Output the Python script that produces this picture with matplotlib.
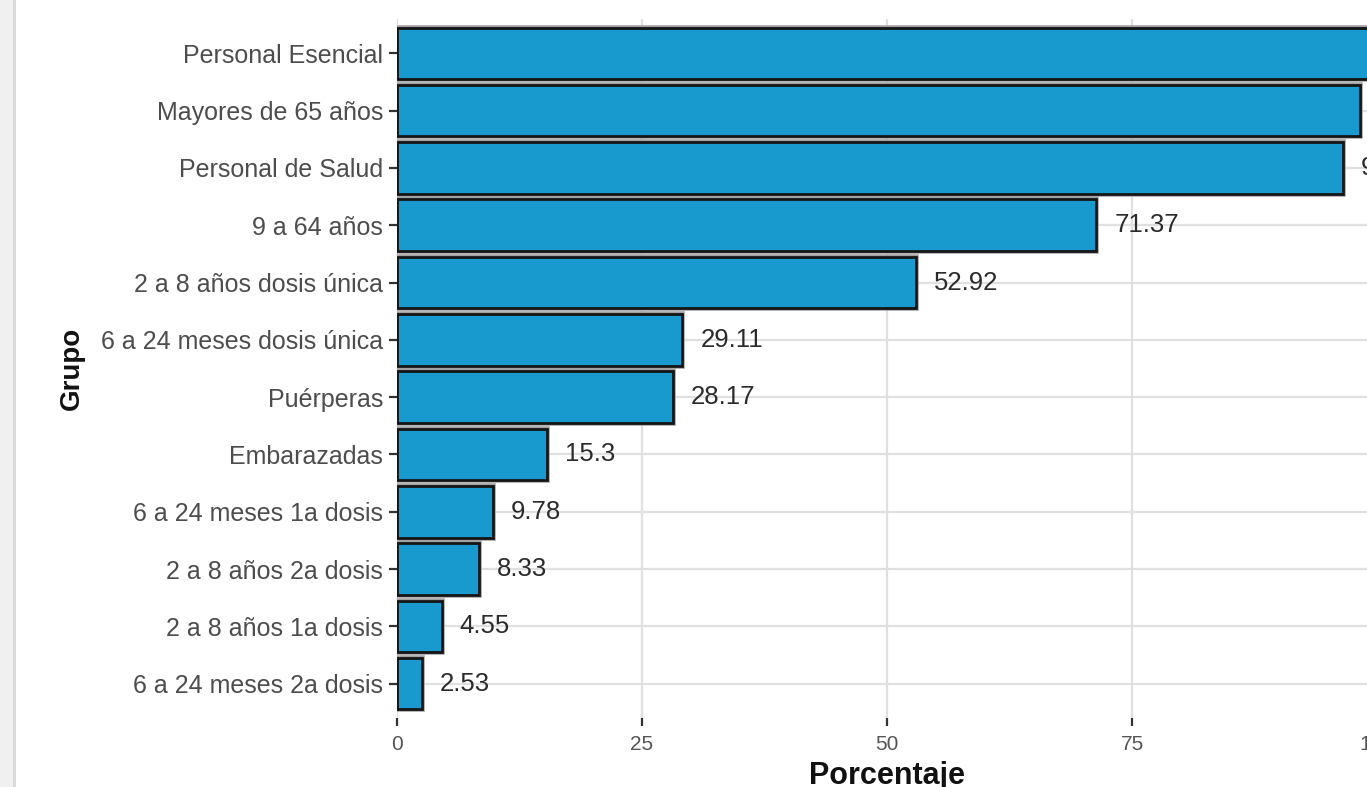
import matplotlib
matplotlib.use('Agg')
import matplotlib.pyplot as plt
from matplotlib.patches import Rectangle

plt.rcParams['font.family'] = ['Liberation Sans', 'DejaVu Sans']

# Data, top to bottom as shown in the chart
grupos = [
    'Personal Esencial',
    'Mayores de 65 años',
    'Personal de Salud',
    '9 a 64 años',
    '2 a 8 años dosis única',
    '6 a 24 meses dosis única',
    'Puérperas',
    'Embarazadas',
    '6 a 24 meses 1a dosis',
    '2 a 8 años 2a dosis',
    '2 a 8 años 1a dosis',
    '6 a 24 meses 2a dosis',
]
porcentaje = [99.47, 98.27, 96.5, 71.37, 52.92, 29.11, 28.17, 15.3, 9.78, 8.33, 4.55, 2.53]
x_ticks = [0, 25, 50, 75, 100]

W, H = 1367, 787
fig = plt.figure(figsize=(W / 100, H / 100), dpi=100)

# light grey page strip on the left
fig.patches.append(Rectangle((0, 0), 13 / W, 1, transform=fig.transFigure,
                             facecolor='#f0f0f0', edgecolor='none'))
fig.patches.append(Rectangle((13 / W, 0), 3 / W, 1, transform=fig.transFigure,
                             facecolor='#dadada', edgecolor='none'))

left, right = 397, 1377
top, bottom = 19, 718
ax = fig.add_axes([left / W, 1 - bottom / H, (right - left) / W, (bottom - top) / H])

n = len(grupos)
ypos = list(range(n - 1, -1, -1))

# soft grey halo, then the bar itself
ax.barh(ypos, porcentaje, height=0.9, color='none', edgecolor='#a0a0a0',
        linewidth=4.0, zorder=2)
ax.barh(ypos, porcentaje, height=0.9, color='#199ACF', edgecolor='#151515',
        linewidth=2.0, zorder=3)

for y, v in zip(ypos, porcentaje):
    ax.annotate(f'{v:g}', xy=(v, y), xytext=(18, 0), textcoords='offset pixels',
                ha='left', va='center', fontsize=18.5, color='#2b2b2b',
                annotation_clip=False, zorder=4)

ax.set_xlim(0, 100)
ax.set_ylim(-0.6, n - 0.4)
ax.set_xticks(x_ticks)
ax.set_yticks(ypos)
ax.set_yticklabels(grupos)

ax.grid(True, color='#e0e0e0', linewidth=1.6, zorder=0)
ax.set_axisbelow(True)
for s in ax.spines.values():
    s.set_visible(False)

ax.tick_params(axis='y', length=6, width=1.6, color='#333333', pad=4,
               labelsize=18, labelcolor='#4d4d4d')
ax.tick_params(axis='x', length=6, width=1.6, color='#333333', pad=6,
               labelsize=15, labelcolor='#555555')

ax.set_xlabel('Porcentaje', fontsize=22, fontweight='bold', color='#111111',
              labelpad=5)
fig.text(72 / W, 1 - 368 / H, 'Grupo', rotation=90, ha='center', va='center',
         fontsize=20, fontweight='bold', color='#111111')

fig.savefig('out.png', dpi=100)
